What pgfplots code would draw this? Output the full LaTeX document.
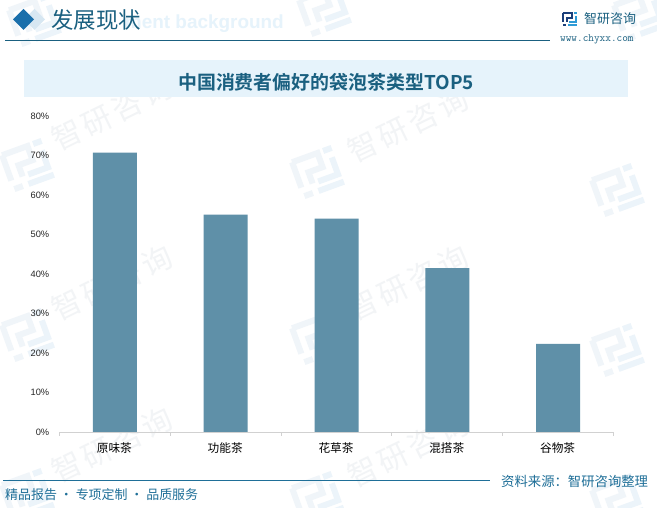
\documentclass[border=0pt]{standalone}
\usepackage{pgfplots}
\pgfplotsset{compat=1.18}
\usepackage{fontspec}
\setmainfont{Liberation Sans}
\newfontfamily\cjk{Noto Sans CJK SC}
\newfontfamily\cjkb{Noto Sans CJK SC}[BoldFont={Noto Sans CJK SC Bold}]
\newfontfamily\cjkw{Noto Sans CJK SC}[LetterSpace=12]
\definecolor{barc}{HTML}{5F90A8}
\definecolor{navy}{HTML}{1A6080}
\definecolor{foot}{HTML}{1F6F98}
\definecolor{band}{HTML}{E6F3FB}
\definecolor{wm}{HTML}{F2F4F6}
\definecolor{wl}{HTML}{F0F5F9}
\definecolor{wlb}{HTML}{ECF4FA}
\definecolor{dmdl}{HTML}{D7E7F2}
\definecolor{dmdd}{HTML}{1A6FAB}
\definecolor{logod}{HTML}{1B3F7A}
\definecolor{logol}{HTML}{2E9BD6}
\newcommand\wm[2]{\node[rotate=26,text=wm,font=\cjkw\fontsize{30}{30}\selectfont,anchor=center,inner sep=0] at (#1,508-#2) {智研咨询};}
% logo on a 14x14 grid, scale #4, rotated #3, colours #5 #6
\newcommand\logo[6]{\begin{scope}[shift={(#1,508-#2)},rotate=#3,scale=#4,x=1bp,y=1bp]
 \draw[#5,line width=2*#4 bp] (-7,6) -- (2,6) -- (2,1) -- (-3,1) -- (-3,-3);
 \draw[#5,line width=2*#4 bp] (-7,6) -- (-7,-3);
 \fill[#5] (-7,-7) rectangle (-4,-5);
 \fill[#6] (4,5) rectangle (7,7);
 \draw[#6,line width=2*#4 bp] (6,3) -- (6,-3) -- (-1,-3);
 \draw[#6,line width=2*#4 bp] (7,-6) -- (-2,-6);
\end{scope}}
\begin{document}
\begin{tikzpicture}[x=1bp,y=1bp]
\useasboundingbox (0,0) rectangle (657,508);
\fill[white] (0,0) rectangle (657,508);
\foreach \px/\py in {112/113,408/125,112/283,408/283,112/445,408/450}{\wm{\px}{\py}}
\foreach \px/\py in {28/165,318/172,618/190,28/335,318/338,618/350,28/495,318/498,618/500,35/20,325/10,640/15}{\logo{\px}{\py}{20}{3}{wl}{wlb}}
\fill[band] (24,411) rectangle (628,448);
\fill[dmdl] (24,488.5) -- (34.5,499) -- (45,488.5) -- (34.5,478) -- cycle;
\fill[dmdd] (13,488.5) -- (23.5,499) -- (34,488.5) -- (23.5,478) -- cycle;
\node[anchor=east,text=band,font=\bfseries\fontsize{19}{19}\selectfont,inner sep=0] at (284,484) {ment background};
\node[anchor=west,text=navy,font=\cjk\fontsize{22.5}{22.5}\selectfont,inner sep=0] at (51,488) {发展现状};
\draw[navy,line width=0.9] (5,468) -- (550,468);
\node[text=navy,font=\cjkb\bfseries\fontsize{19}{19}\selectfont,inner sep=0] at (326,426) {中国消费者偏好的袋泡茶类型TOP5};
\node[anchor=west,text=navy,font=\cjk\fontsize{13}{13}\selectfont,inner sep=0] at (584,489) {智研咨询};
\node[anchor=west,text=navy,font=\ttfamily\fontsize{11}{11}\selectfont,inner sep=0] at (560,469) {www.chyxx.com};
\logo{569.5}{19}{0}{1}{logod}{logol}
\draw[foot,line width=0.9] (3,28) -- (490,28);
\node[anchor=west,text=foot,font=\cjk\fontsize{13.4}{13.4}\selectfont,inner sep=0] at (501,27) {资料来源：智研咨询整理};
\node[anchor=west,text=foot,font=\cjk\fontsize{13}{13}\selectfont,inner sep=0] at (5,13) {精品报告 · 专项定制 · 品质服务};
\begin{axis}[
  at={(59bp,76bp)},anchor=south west,
  scale only axis,width=554bp,height=316bp,
  xmin=-0.5,xmax=4.5,ymin=0,ymax=80,
  axis y line=left,axis x line=bottom,
  x axis line style={-,draw=black!18},
  y axis line style={draw=none},
  xtick={0,1,2,3,4},
  xticklabels={原味茶,功能茶,花草茶,混搭茶,谷物茶},
  minor xtick={-0.5,0.5,1.5,2.5,3.5,4.5},
  major x tick style={draw=none},
  minor x tick style={draw=black!18},
  tick align=outside,
  minor tick length=4bp,
  xticklabel style={font=\cjk\fontsize{11.7}{11.7}\selectfont,text=black,yshift=-3bp},
  ytick={0,10,...,80},major y tick style={draw=none},
  yticklabel={\pgfmathprintnumber{\tick}\%},
  /pgf/number format/assume math mode=true,
  yticklabel style={font=\fontsize{9.3}{9.3}\selectfont,text=black!85,xshift=-2bp},
]
\addplot[ybar,bar width=44bp,bar shift=0.5bp,fill=barc,draw=none] coordinates {(0,70.7)(1,55)(2,54)(3,41.5)(4,22.3)};
\end{axis}
\end{tikzpicture}
\end{document}
